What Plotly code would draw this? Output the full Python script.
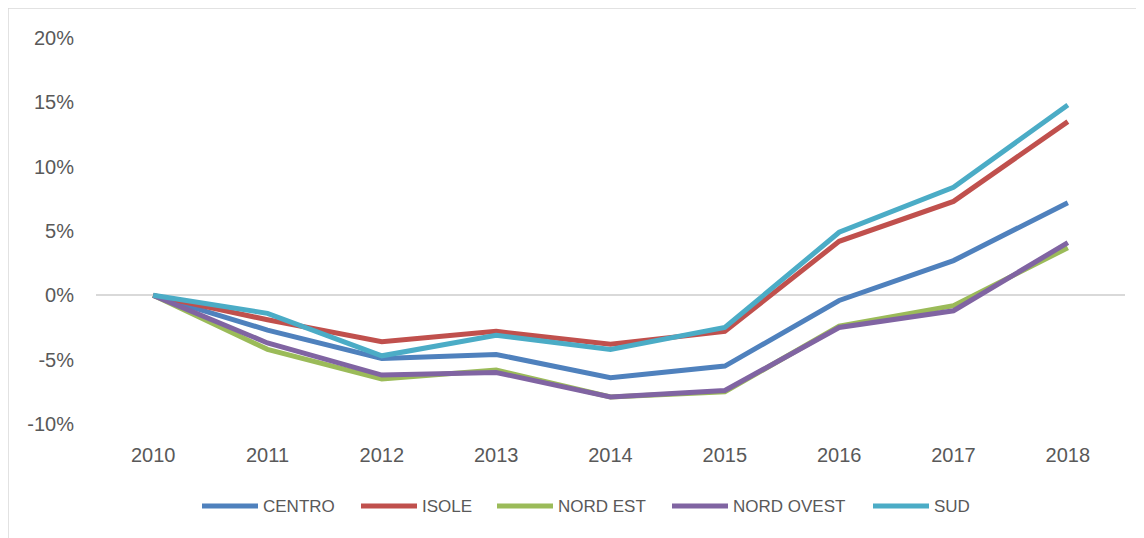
import plotly.graph_objects as go

years = ["2010", "2011", "2012", "2013", "2014", "2015", "2016", "2017", "2018"]
centro = [0.0, -2.7, -4.9, -4.6, -6.4, -5.5, -0.4, 2.7, 7.2]
isole = [0.0, -1.9, -3.6, -2.8, -3.8, -2.8, 4.2, 7.3, 13.5]
nord_est = [0.0, -4.2, -6.5, -5.8, -7.9, -7.5, -2.4, -0.8, 3.7]
nord_ovest = [0.0, -3.7, -6.2, -6.0, -7.9, -7.4, -2.5, -1.2, 4.1]
sud = [0.0, -1.4, -4.7, -3.1, -4.2, -2.5, 4.9, 8.4, 14.8]

y_tick_vals = [-10, -5, 0, 5, 10, 15, 20]
y_tick_text = ["-10%", "-5%", "0%", "5%", "10%", "15%", "20%"]

series = [
    ("CENTRO", centro, "#4F81BD"),
    ("ISOLE", isole, "#C0504D"),
    ("NORD EST", nord_est, "#9BBB59"),
    ("NORD OVEST", nord_ovest, "#8064A2"),
    ("SUD", sud, "#4BACC6"),
]

font_color = "#595959"
font_family = "Liberation Sans, Arial, sans-serif"

fig = go.Figure()
for name, vals, col in series:
    fig.add_trace(go.Scatter(
        x=years, y=vals, name=name, mode="lines",
        line=dict(color=col, width=5), showlegend=False,
    ))

# plot area geometry (page pixels): x 96..1125, y 38..424
PX0, PW, PY0, PH = 96.0, 1029.0, 424.0, 386.0


def px(xp):
    return (xp - PX0) / PW


def py(yp):
    return (PY0 - yp) / PH


# custom legend (Excel style: long line then label)
legend_line_starts = [202, 361, 497, 672, 873]
legend_y = 506
line_len = 56
shapes = [dict(type="rect", xref="paper", yref="paper",
               x0=px(8), x1=1.2, y0=-0.6, y1=py(8),
               line=dict(color="#D9D9D9", width=1.5), layer="below")]
annotations = []
for (name, _, col), x0 in zip(series, legend_line_starts):
    shapes.append(dict(type="line", xref="paper", yref="paper",
                       x0=px(x0), x1=px(x0 + line_len), y0=py(legend_y), y1=py(legend_y),
                       line=dict(color=col, width=5)))
    annotations.append(dict(xref="paper", yref="paper", x=px(x0 + line_len + 3), y=py(legend_y),
                            xanchor="left", yanchor="middle", text=name, showarrow=False,
                            font=dict(size=17, color=font_color, family=font_family)))

fig.update_layout(
    width=1144, height=538,
    margin=dict(l=88, r=27, t=30, b=122),
    paper_bgcolor="white", plot_bgcolor="white",
    font=dict(family=font_family, color=font_color, size=20),
    showlegend=False,
    xaxis=dict(type="category", showgrid=False, showline=False, zeroline=False,
               ticks="", ticklabelstandoff=17, tickfont=dict(size=20, color=font_color),
               range=[-0.5, 8.5]),
    yaxis=dict(range=[-10, 20], tickvals=y_tick_vals, ticktext=y_tick_text, showgrid=False,
               zeroline=True, zerolinecolor="#D9D9D9", zerolinewidth=1.5,
               showline=False, ticks="", ticklabelstandoff=21,
               tickfont=dict(size=20, color=font_color)),
    shapes=shapes,
    annotations=annotations,
)

fig.write_html("out.html")
